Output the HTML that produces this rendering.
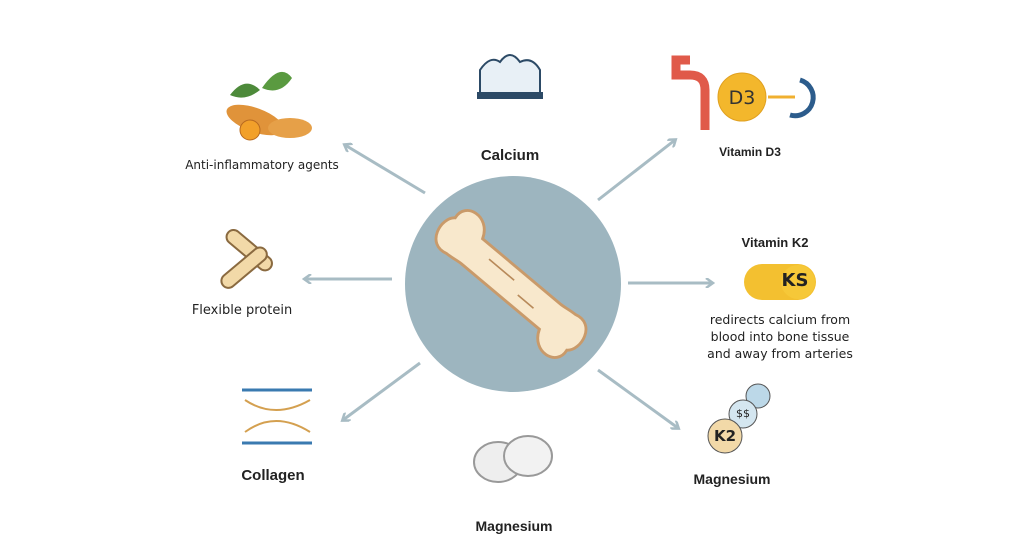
<!DOCTYPE html>
<html><head><style>
body{margin:0;width:1024px;height:559px;background:#fff;overflow:hidden;position:relative;font-family:"DejaVu Sans","Liberation Sans",sans-serif;color:#222}
.t{position:absolute;transform:translateX(-50%);white-space:nowrap}
.b{font-weight:bold;font-family:"Liberation Sans",sans-serif}
</style></head><body>
<svg width="1024" height="559" style="position:absolute;left:0;top:0">
<defs><marker id="a" markerWidth="10" markerHeight="10" refX="7" refY="5" orient="auto" markerUnits="userSpaceOnUse"><path d="M1,0 L8,5 L1,10" fill="none" stroke="#a8bcc4" stroke-width="2.5"/></marker></defs>
<g stroke="#a8bcc4" stroke-width="3" marker-end="url(#a)">
<line x1="425" y1="193" x2="345" y2="145"/>
<line x1="598" y1="200" x2="675" y2="140"/>
<line x1="392" y1="279" x2="305" y2="279"/>
<line x1="628" y1="283" x2="712" y2="283"/>
<line x1="420" y1="363" x2="343" y2="420"/>
<line x1="598" y1="370" x2="678" y2="428"/>
</g>
<circle cx="513" cy="284" r="108" fill="#9db5bf"/>
<g transform="translate(511,284) rotate(40) scale(0.82)">
<path d="M-62,-20 C-72,-48 -108,-42 -104,-18 C-118,-8 -112,30 -84,22 C-76,22 -68,20 -62,20 L62,20 C72,48 108,42 104,18 C118,8 112,-30 84,-22 C76,-22 68,-20 62,-20 Z" fill="#f8e8cc" stroke="#c99a6a" stroke-width="3.5"/>
<path d="M-40,-6 L0,-6 M15,5 L40,5" stroke="#b88a5a" stroke-width="2" fill="none"/>
</g>
<!-- turmeric -->
<ellipse cx="255" cy="120" rx="30" ry="12" fill="#e0933a" transform="rotate(20 255 120)"/>
<ellipse cx="290" cy="128" rx="22" ry="10" fill="#e6a048"/>
<circle cx="250" cy="130" r="10" fill="#f2a02a" stroke="#b86a20"/>
<path d="M230,95 Q245,75 260,90 Q245,102 230,95Z" fill="#4d8a3a"/>
<path d="M262,88 Q280,62 292,78 Q280,96 262,88Z" fill="#5a9a40"/>
<!-- calcium -->
<path d="M480,95 L480,70 Q490,55 500,62 Q510,48 520,62 Q532,56 540,70 L540,95Z" fill="#e8f0f6" stroke="#2c4a66" stroke-width="2"/>
<rect x="477" y="92" width="66" height="7" fill="#2c4a66"/>
<!-- D3 -->
<path d="M705,130 L705,90 Q705,75 690,75 L676,75 L676,60 L690,60" fill="none" stroke="#e05a4a" stroke-width="9"/>
<circle cx="742" cy="97" r="24" fill="#f3b72c" stroke="#e0a020"/>
<path d="M800,80 A18,18 0 1 1 790,115" fill="none" stroke="#2c5c8c" stroke-width="5"/>
<line x1="768" y1="97" x2="795" y2="97" stroke="#f0b030" stroke-width="3"/>
<!-- flexible protein -->
<rect x="212" y="240" width="55" height="14" rx="7" fill="#f2d9a8" stroke="#8a6a40" stroke-width="2" transform="rotate(40 240 262)"/>
<rect x="212" y="262" width="55" height="14" rx="7" fill="#f2d9a8" stroke="#8a6a40" stroke-width="2" transform="rotate(-40 240 262)"/>
<!-- KS -->
<rect x="744" y="264" width="72" height="36" rx="18" fill="#f3c030"/>
<circle cx="798" cy="282" r="17" fill="#f6c838"/>
<!-- collagen -->
<g stroke="#3a7ab0" stroke-width="3"><line x1="242" y1="390" x2="312" y2="390"/><line x1="242" y1="443" x2="312" y2="443"/></g>
<path d="M245,400 Q275,420 310,400 M245,432 Q275,410 310,432" stroke="#d4a050" fill="none" stroke-width="2"/>
<!-- magnesium bottom -->
<ellipse cx="498" cy="462" rx="24" ry="20" fill="#eee" stroke="#999" stroke-width="2"/>
<ellipse cx="528" cy="456" rx="24" ry="20" fill="#f2f2f2" stroke="#999" stroke-width="2"/>
<!-- magnesium right -->
<circle cx="758" cy="396" r="12" fill="#bcd8e8" stroke="#555"/>
<circle cx="743" cy="414" r="14" fill="#d4e6f0" stroke="#555"/>
<circle cx="725" cy="436" r="17" fill="#f2d9a8" stroke="#555"/>
</svg>
<div class="t" style="left:262px;top:158px;font-size:12px">Anti-inflammatory agents</div>
<div class="t b" style="left:510px;top:147px;font-size:15px">Calcium</div>
<div class="t" style="left:742px;top:87px;font-size:19px;color:#333">D3</div>
<div class="t b" style="left:750px;top:145px;font-size:12px">Vitamin D3</div>
<div class="t b" style="left:775px;top:235px;font-size:13px">Vitamin K2</div>
<div class="t" style="left:795px;top:270px;font-size:18px;font-weight:bold">KS</div>
<div class="t" style="left:780px;top:311px;font-size:12.5px;text-align:center;line-height:17px">redirects calcium from<br>blood into bone tissue<br>and away from arteries</div>
<div class="t" style="left:242px;top:303px;font-size:13px">Flexible protein</div>
<div class="t b" style="left:273px;top:467px;font-size:15px">Collagen</div>
<div class="t" style="left:725px;top:427px;font-size:15px;font-weight:bold">K2</div>
<div class="t" style="left:743px;top:407px;font-size:11px">$$</div>
<div class="t b" style="left:732px;top:471px;font-size:14px">Magnesium</div>
<div class="t b" style="left:514px;top:518px;font-size:14px">Magnesium</div>
</body></html>
